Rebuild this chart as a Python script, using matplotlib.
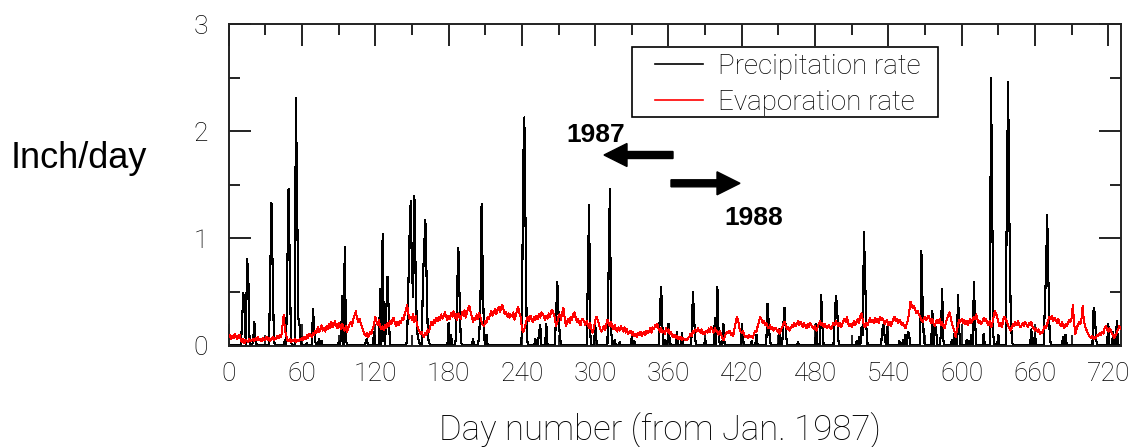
import numpy as np
import matplotlib
matplotlib.use("Agg")
import matplotlib.pyplot as plt
from matplotlib.patches import FancyArrow, Rectangle
from matplotlib.transforms import IdentityTransform

# ---------------- data ----------------
x_ticks = [0, 60, 120, 180, 240, 300, 360, 420, 480, 540, 600, 660, 720]
x_tick_labels = [str(t) for t in x_ticks]
y_ticks = [0, 1, 2, 3]
y_tick_labels = ["0", "1", "2", "3"]

# precipitation rate (inch/day): days with rain and their values, all other days are 0
precip_days = [
    11, 12, 13, 15, 16, 17, 20, 21, 22,
    34, 35, 36, 37, 46, 48, 49, 50, 51,
    55, 56, 57, 58, 59, 64, 69, 70, 71, 74, 76,
    90, 92, 93, 95, 96, 112, 113, 119,
    124, 126, 127, 129, 130, 131,
    146, 147, 148, 149, 150, 151, 152, 153, 154, 155, 156,
    159, 160, 161, 162, 163, 164,
    180, 182, 186, 187, 188, 189, 190,
    200, 205, 206, 207, 208, 209, 211,
    240, 241, 242, 243, 244, 251, 254, 255, 260,
    268, 269, 270, 271,
    294, 295, 296, 300, 301, 311, 312, 313, 316, 320, 330, 332,
    353, 354, 355, 357, 360, 361, 367, 371,
    379, 380, 381, 382, 390, 398, 400, 401, 405,
    420, 421, 428, 432, 441, 442, 443,
    451, 454, 455, 456, 466, 481, 485, 486,
    496, 497, 498, 499, 514, 516, 518, 519, 520, 521, 522,
    535, 536, 537, 539, 549, 552, 554, 556, 557,
    567, 568, 569, 576, 578, 579, 583, 584, 585,
    592, 594, 597, 598, 604, 606, 608, 610, 611, 618,
    624, 625, 626, 630, 637, 638, 639, 640, 641, 657, 660,
    668, 669, 670, 671, 672, 683, 685,
    708, 709, 710, 720, 724, 727,
]
precip_vals = [
    0.24, 0.49, 0.35, 0.81, 0.68, 0.08, 0.04, 0.22, 0.05,
    0.68, 1.33, 0.68, 0.05, 0.05, 0.74, 1.46, 0.74, 0.03,
    2.31, 1.40, 0.26, 0.19, 0.04, 0.02, 0.34, 0.16, 0.03, 0.06, 0.04,
    0.03, 0.08, 0.46, 0.92, 0.05, 0.03, 0.06, 0.13,
    0.53, 1.04, 0.10, 0.31, 0.64, 0.31,
    0.04, 0.53, 1.01, 1.35, 0.70, 0.45, 1.40, 0.69, 0.16, 0.07, 0.03,
    0.61, 0.92, 1.17, 0.61, 0.08, 0.03,
    0.21, 0.10, 0.06, 0.53, 0.91, 0.44, 0.04,
    0.06, 0.08, 0.36, 1.32, 0.65, 0.08, 0.10,
    0.10, 1.66, 2.13, 1.06, 0.08, 0.06, 0.12, 0.19, 0.20,
    0.29, 0.59, 0.29, 0.10,
    0.64, 1.31, 0.10, 0.20, 0.05, 0.74, 1.46, 0.15, 0.05, 0.03, 0.09, 0.04,
    0.32, 0.55, 0.18, 0.05, 0.20, 0.04, 0.13, 0.12,
    0.10, 0.50, 0.24, 0.05, 0.06, 0.26, 0.55, 0.12, 0.20,
    0.20, 0.05, 0.04, 0.10, 0.39, 0.22, 0.05,
    0.15, 0.20, 0.35, 0.15, 0.03, 0.20, 0.47, 0.18,
    0.22, 0.46, 0.38, 0.05, 0.04, 0.08, 0.17, 0.10, 1.06, 0.62, 0.17,
    0.15, 0.19, 0.08, 0.17, 0.04, 0.05, 0.10, 0.13, 0.10,
    0.88, 0.40, 0.05, 0.32, 0.19, 0.16, 0.11, 0.53, 0.05,
    0.05, 0.11, 0.47, 0.14, 0.05, 0.04, 0.10, 0.59, 0.21, 0.11,
    2.50, 1.28, 0.08, 0.10, 1.46, 2.46, 1.22, 0.40, 0.05, 0.15, 0.11,
    0.35, 0.68, 1.22, 0.60, 0.11, 0.08, 0.10,
    0.35, 0.30, 0.06, 0.20, 0.13, 0.23,
]

# evaporation rate (inch/day), one value per day, day 0 .. 730
evap = [
    0.08, 0.10, 0.06, 0.09, 0.07, 0.11, 0.08, 0.06, 0.09, 0.10,
    0.05, 0.03, 0.06, 0.02, 0.05, 0.04, 0.03, 0.06, 0.04, 0.05,
    0.06, 0.04, 0.07, 0.05, 0.08, 0.05, 0.06, 0.04, 0.07, 0.05,
    0.06, 0.08, 0.05, 0.07, 0.04, 0.06, 0.08, 0.05, 0.07, 0.06,
    0.09, 0.07, 0.10, 0.08, 0.18, 0.29, 0.15, 0.10, 0.05, 0.04,
    0.06, 0.03, 0.05, 0.04, 0.06, 0.03, 0.05, 0.04, 0.06, 0.05,
    0.07, 0.05, 0.08, 0.06, 0.10, 0.07, 0.11, 0.09, 0.08, 0.12,
    0.10, 0.14, 0.12, 0.17, 0.13, 0.15, 0.19, 0.14, 0.16, 0.13,
    0.18, 0.15, 0.20, 0.16, 0.22, 0.17, 0.19, 0.23, 0.18, 0.16,
    0.21, 0.19, 0.15, 0.20, 0.16, 0.14, 0.18, 0.13, 0.17, 0.20,
    0.22, 0.18, 0.25, 0.28, 0.32, 0.26, 0.22, 0.25, 0.21, 0.18,
    0.14, 0.11, 0.09, 0.12, 0.08, 0.10, 0.13, 0.11, 0.16, 0.20,
    0.27, 0.22, 0.19, 0.24, 0.17, 0.15, 0.18, 0.14, 0.19, 0.16,
    0.21, 0.18, 0.23, 0.20, 0.24, 0.26, 0.21, 0.18, 0.22, 0.19,
    0.23, 0.21, 0.26, 0.24, 0.29, 0.33, 0.38, 0.30, 0.25, 0.27,
    0.24, 0.29, 0.22, 0.28, 0.20, 0.16, 0.14, 0.11, 0.13, 0.09,
    0.08, 0.12, 0.10, 0.15, 0.13, 0.18, 0.22, 0.19, 0.24, 0.21,
    0.26, 0.23, 0.27, 0.24, 0.29, 0.25, 0.28, 0.31, 0.27, 0.24,
    0.28, 0.25, 0.30, 0.27, 0.32, 0.26, 0.29, 0.24, 0.30, 0.27,
    0.25, 0.31, 0.28, 0.33, 0.26, 0.30, 0.35, 0.37, 0.31, 0.27,
    0.22, 0.26, 0.24, 0.29, 0.25, 0.30, 0.27, 0.22, 0.19, 0.18,
    0.23, 0.21, 0.27, 0.25, 0.29, 0.32, 0.28, 0.31, 0.34, 0.29,
    0.33, 0.36, 0.31, 0.35, 0.38, 0.33, 0.29, 0.31, 0.27, 0.30,
    0.26, 0.29, 0.27, 0.31, 0.24, 0.28, 0.33, 0.36, 0.30, 0.27,
    0.16, 0.13, 0.15, 0.20, 0.24, 0.27, 0.23, 0.28, 0.25, 0.22,
    0.27, 0.24, 0.28, 0.25, 0.29, 0.26, 0.31, 0.30, 0.27, 0.24,
    0.28, 0.25, 0.30, 0.27, 0.32, 0.33, 0.29, 0.26, 0.18, 0.22,
    0.27, 0.29, 0.24, 0.31, 0.35, 0.26, 0.18, 0.22, 0.25, 0.21,
    0.27, 0.24, 0.29, 0.31, 0.26, 0.22, 0.25, 0.21, 0.19, 0.24,
    0.25, 0.22, 0.19, 0.23, 0.19, 0.16, 0.21, 0.15, 0.12, 0.17,
    0.23, 0.27, 0.24, 0.20, 0.16, 0.13, 0.15, 0.18, 0.14, 0.19,
    0.24, 0.21, 0.18, 0.22, 0.17, 0.15, 0.19, 0.15, 0.13, 0.17,
    0.14, 0.18, 0.16, 0.13, 0.17, 0.12, 0.15, 0.11, 0.12, 0.14,
    0.10, 0.13, 0.09, 0.11, 0.08, 0.12, 0.10, 0.13, 0.09, 0.11,
    0.13, 0.10, 0.14, 0.12, 0.13, 0.16, 0.12, 0.17, 0.15, 0.19,
    0.17, 0.20, 0.15, 0.13, 0.16, 0.12, 0.14, 0.11, 0.16, 0.13,
    0.15, 0.11, 0.13, 0.09, 0.08, 0.10, 0.07, 0.09, 0.06, 0.07,
    0.08, 0.05, 0.07, 0.06, 0.05, 0.05, 0.07, 0.08, 0.11, 0.09,
    0.14, 0.12, 0.15, 0.13, 0.16, 0.14, 0.12, 0.15, 0.11, 0.13,
    0.11, 0.14, 0.12, 0.16, 0.13, 0.17, 0.15, 0.12, 0.16, 0.14,
    0.13, 0.10, 0.14, 0.11, 0.07, 0.05, 0.08, 0.11, 0.13, 0.12,
    0.14, 0.10, 0.12, 0.09, 0.16, 0.21, 0.27, 0.24, 0.16, 0.13,
    0.12, 0.14, 0.10, 0.08, 0.09, 0.07, 0.10, 0.08, 0.09, 0.07,
    0.11, 0.14, 0.13, 0.18, 0.22, 0.27, 0.25, 0.21, 0.23, 0.19,
    0.21, 0.18, 0.16, 0.19, 0.15, 0.17, 0.14, 0.16, 0.16, 0.13,
    0.15, 0.11, 0.14, 0.17, 0.20, 0.22, 0.19, 0.15, 0.17, 0.14,
    0.16, 0.19, 0.17, 0.21, 0.18, 0.20, 0.23, 0.19, 0.22, 0.20,
    0.17, 0.21, 0.18, 0.16, 0.20, 0.17, 0.21, 0.19, 0.17, 0.15,
    0.18, 0.14, 0.17, 0.20, 0.23, 0.19, 0.21, 0.17, 0.20, 0.18,
    0.16, 0.19, 0.17, 0.15, 0.18, 0.21, 0.19, 0.23, 0.20, 0.18,
    0.21, 0.17, 0.19, 0.23, 0.25, 0.22, 0.27, 0.21, 0.18, 0.20,
    0.17, 0.20, 0.23, 0.19, 0.22, 0.25, 0.21, 0.27, 0.30, 0.24,
    0.19, 0.17, 0.21, 0.19, 0.23, 0.26, 0.22, 0.24, 0.21, 0.26,
    0.22, 0.25, 0.21, 0.27, 0.24, 0.26, 0.23, 0.20, 0.22, 0.24,
    0.19, 0.22, 0.18, 0.21, 0.25, 0.27, 0.23, 0.25, 0.21, 0.24,
    0.22, 0.19, 0.21, 0.18, 0.16, 0.20, 0.24, 0.31, 0.41, 0.38,
    0.35, 0.37, 0.33, 0.30, 0.32, 0.29, 0.27, 0.24, 0.22, 0.25,
    0.27, 0.24, 0.26, 0.28, 0.24, 0.21, 0.25, 0.20, 0.18, 0.22,
    0.24, 0.21, 0.25, 0.19, 0.22, 0.18, 0.16, 0.21, 0.25, 0.28,
    0.31, 0.26, 0.20, 0.17, 0.14, 0.08, 0.13, 0.19, 0.24, 0.22,
    0.25, 0.21, 0.24, 0.20, 0.23, 0.19, 0.22, 0.25, 0.21, 0.24,
    0.27, 0.25, 0.29, 0.24, 0.21, 0.23, 0.20, 0.22, 0.26, 0.23,
    0.25, 0.21, 0.19, 0.23, 0.17, 0.20, 0.26, 0.32, 0.30, 0.27,
    0.22, 0.18, 0.21, 0.17, 0.24, 0.27, 0.25, 0.22, 0.19, 0.16,
    0.14, 0.17, 0.20, 0.18, 0.22, 0.19, 0.23, 0.20, 0.17, 0.19,
    0.21, 0.18, 0.22, 0.20, 0.17, 0.21, 0.19, 0.22, 0.18, 0.16,
    0.14, 0.16, 0.13, 0.15, 0.11, 0.13, 0.12, 0.15, 0.18, 0.16,
    0.20, 0.24, 0.27, 0.25, 0.28, 0.23, 0.26, 0.24, 0.21, 0.25,
    0.21, 0.18, 0.22, 0.19, 0.16, 0.20, 0.18, 0.21, 0.24, 0.22,
    0.26, 0.38, 0.21, 0.11, 0.15, 0.19, 0.22, 0.20, 0.24, 0.37,
    0.23, 0.18, 0.15, 0.12, 0.10, 0.08, 0.07, 0.09, 0.06, 0.08,
    0.07, 0.10, 0.09, 0.12, 0.10, 0.13, 0.11, 0.16, 0.18, 0.15,
    0.13, 0.16, 0.14, 0.11, 0.09, 0.07, 0.10, 0.12, 0.15, 0.18,
    0.16,
]

series_labels = ["Precipitation rate", "Evaporation rate"]
x_label = "Day number (from Jan. 1987)"
y_label = "Inch/day"

# ---------------- figure ----------------
W, H = 1140, 447
fig = plt.figure(figsize=(W / 100, H / 100), dpi=100)
fig.patch.set_facecolor("white")

ax_l, ax_r, ax_t, ax_b = 228.7, 1120.5, 24.3, 345.5
ax = fig.add_axes([ax_l / W, 1 - ax_b / H, (ax_r - ax_l) / W, (ax_b - ax_t) / H])

n_days = len(evap)
days = np.arange(n_days)
precip = np.zeros(n_days)
precip[precip_days] = precip_vals

ax.plot(days, precip, color="black", lw=0.8, label=series_labels[0],
        antialiased=False, zorder=2)
ax.plot(days, evap, color="#ff0000", lw=0.72, label=series_labels[1],
        antialiased=False, zorder=3)

ax.set_xlim(0, 730)
ax.set_ylim(0, 3)

hershey = dict(family=["Roboto", "DejaVu Sans"], weight="light")

ax.set_xticks(x_ticks)
ax.set_xticklabels(x_tick_labels, fontsize=19, **hershey)
ax.set_xticks(np.arange(30, 730, 60), minor=True)
ax.set_yticks(y_ticks)
ax.set_yticklabels(y_tick_labels, fontsize=19, **hershey)
ax.set_yticks([0.5, 1.5, 2.5], minor=True)

ax.tick_params(which="both", direction="in", top=True, right=True,
               color="#222222", width=1.4)
ax.tick_params(which="major", length=16)
ax.tick_params(which="minor", length=8)
ax.tick_params(axis="x", which="major", pad=12)
ax.tick_params(axis="y", which="major", pad=15)

for s in ax.spines.values():
    s.set_linewidth(1.4)
    s.set_color("#222222")

ax.set_xlabel(x_label, fontsize=25, **hershey)
ax.xaxis.set_label_coords((660 - ax_l) / (ax_r - ax_l), (ax_b - 413) / (ax_b - ax_t))
ax.xaxis.label.set_va("top")

ax.set_ylabel(y_label, fontsize=26, family=["Liberation Sans", "DejaVu Sans"],
              rotation=0, ha="center", va="center")
ax.yaxis.set_label_coords((79 - ax_l) / (ax_r - ax_l), (ax_b - 159) / (ax_b - ax_t))

# legend (entries placed by the legend, box drawn as a frame around them)
leg_fs = 20
leg = ax.legend(loc="upper left",
                bbox_to_anchor=(655 / W, 1 - 53 / H), bbox_transform=fig.transFigure,
                borderaxespad=0, borderpad=0, frameon=False,
                handlelength=48 / (leg_fs * 100 / 72), handletextpad=15 / (leg_fs * 100 / 72),
                labelspacing=0.31,
                prop=dict(family=["Roboto", "DejaVu Sans"], weight="light", size=leg_fs))
for h in leg.legend_handles:
    h.set_linewidth(1.2)
    h.set_antialiased(True)
fig.add_artist(Rectangle((632, H - 117), 938 - 632, 117 - 47, fill=False,
                         edgecolor="black", linewidth=1.2,
                         transform=IdentityTransform()))

bold = dict(family=["Liberation Sans", "DejaVu Sans"], weight="bold", fontsize=19)
fig.text(596 / W, 1 - 142 / H, "1987", ha="center", va="baseline", **bold)
fig.text(754 / W, 1 - 225 / H, "1988", ha="center", va="baseline", **bold)

ident = IdentityTransform()
fig.add_artist(FancyArrow(673, H - 155, 604 - 673, 0, width=7, head_width=23,
                          head_length=23, length_includes_head=True,
                          color="black", transform=ident))
fig.add_artist(FancyArrow(671, H - 183.3, 740 - 671, 0, width=7, head_width=23,
                          head_length=23, length_includes_head=True,
                          color="black", transform=ident))

fig.savefig("out.png", dpi=100)
